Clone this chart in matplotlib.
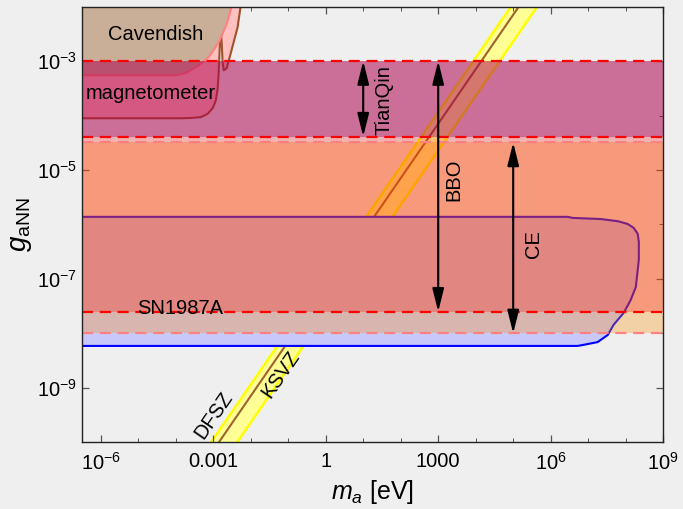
import numpy as np
import matplotlib
matplotlib.use('Agg')
import matplotlib.pyplot as plt
from matplotlib.ticker import FixedLocator, FixedFormatter, NullFormatter

plt.rcParams['font.family'] = ['Liberation Sans', 'DejaVu Sans']
plt.rcParams['mathtext.fontset'] = 'custom'
plt.rcParams['mathtext.rm'] = 'Liberation Sans'
plt.rcParams['mathtext.it'] = 'Liberation Sans:italic'

# ---------------- data ----------------
x_limits = (10**-6.5, 1e9)
y_limits = (1e-10, 1e-2)

x_ticks = [1e-6, 1e-3, 1, 1e3, 1e6, 1e9]
x_ticklabels = [r'$10^{-6}$', '0.001', '1', '1000', r'$10^{6}$', r'$10^{9}$']
y_ticks = [1e-9, 1e-7, 1e-5, 1e-3]
y_ticklabels = [r'$10^{-9}$', r'$10^{-7}$', r'$10^{-5}$', r'$10^{-3}$']

# detector reach in g_aNN (low, high)
tianqin_range = (4.1e-5, 1e-3)
bbo_range = (2.5e-8, 1e-3)
ce_range = (1.0e-8, 3.2e-5)
arrow_masses = {'TianQin': 10.0, 'BBO': 1e3, 'CE': 1e5}

# QCD axion band: log10 g = log10 m + offset
axion_center_offset = -7.15
axion_upper_offset = -6.94
axion_lower_offset = -7.64

# SN1987A excluded region boundary (log10 m, log10 g)
sn_logm = [-6.5, 6.45, 6.59, 7.33, 7.79, 8.05, 8.21, 8.32, 8.35, 8.35, 8.27, 8.13,
           7.95, 7.68, 7.52, 7.25, 6.88, 6.72, 6.53, -6.5]
sn_logg = [-5.86, -5.86, -5.88, -5.90, -5.94, -5.99, -6.06, -6.17, -6.32, -6.65, -7.15,
           -7.39, -7.62, -7.84, -8.03, -8.16, -8.21, -8.23, -8.23, -8.23]

# magnetometer bound (log10 m, log10 g)
mag_logm = [-6.5, -3.87, -3.60, -3.33, -3.15, -3.01, -2.93, -2.88, -2.853, -2.83,
            -2.80, -2.77, -2.75, -2.72, -2.64, -2.53, -2.35, -2.27]
mag_logg = [-4.05, -4.05, -4.045, -4.03, -3.97, -3.86, -3.72, -3.50, -3.20, -2.80,
            -2.43, -2.71, -3.02, -3.17, -3.13, -2.85, -2.38, -2.0]

# Cavendish bound (log10 m, log10 g)
cav_logm = [-6.5, -4.0, -3.73, -3.41, -3.12, -2.85, -2.64, -2.51]
cav_logg = [-3.26, -3.26, -3.22, -3.09, -2.93, -2.65, -2.32, -2.0]

# ---------------- figure ----------------
bg = '#EFEFEF'
fig = plt.figure(figsize=(6.83, 5.09), dpi=100, facecolor=bg)
ax = fig.add_axes([0.120, 0.131, 0.851, 0.856])
ax.set_facecolor(bg)
ax.set_xscale('log')
ax.set_yscale('log')
ax.set_xlim(*x_limits)
ax.set_ylim(*y_limits)

# QCD axion band
lm = np.linspace(np.log10(x_limits[0]), np.log10(x_limits[1]), 200)
m = 10**lm
ax.fill_between(m, 10**(lm + axion_lower_offset), 10**(lm + axion_upper_offset),
                color='#FFFF96', lw=0, zorder=1)
ax.plot(m, 10**(lm + axion_lower_offset), color='#FFFF00', lw=1.8, zorder=1.1)
ax.plot(m, 10**(lm + axion_upper_offset), color='#FFFF00', lw=1.8, zorder=1.1)
ax.plot(m, 10**(lm + axion_center_offset), color='#A0622D', lw=1.5, zorder=1.2)

# SN1987A region
sn_m = 10**np.array(sn_logm)
sn_g = 10**np.array(sn_logg)
ax.fill(sn_m, sn_g, color='#C8C8FA', lw=0, zorder=2)
ax.plot(sn_m, sn_g, color='#0000FF', lw=1.5, zorder=2.1)

# magnetometer region
mag_m = 10**np.array(mag_logm)
mag_g = 10**np.array(mag_logg)
ax.fill(np.r_[mag_m, x_limits[0]], np.r_[mag_g, y_limits[1]], color='#FFC0C0', lw=0, zorder=3)
ax.plot(mag_m, mag_g, color='#A0522D', lw=1.5, zorder=3.1)

# Cavendish region
cav_m = 10**np.array(cav_logm)
cav_g = 10**np.array(cav_logg)
ax.fill(np.r_[cav_m, x_limits[0]], np.r_[cav_g, y_limits[1]], color='#C9AE98', lw=0, zorder=4)
ax.plot(cav_m, cav_g, color='#FF8080', lw=1.5, zorder=4.1)

# detector bands (translucent)
ax.axhspan(*ce_range, color=(1.0, 0.55, 0.0), alpha=0.30, lw=0, zorder=5)
ax.axhspan(*tianqin_range, color=(0.39, 0.0, 0.59), alpha=0.37, lw=0, zorder=5.1)
ax.axhspan(*bbo_range, color=(1.0, 0.0, 0.0), alpha=0.26, lw=0, zorder=5.2)

dash = (0, (5, 3))
for yv in [tianqin_range[1], tianqin_range[0], bbo_range[0]]:
    ax.axhline(yv, color='#FF0000', lw=1.6, ls=dash, zorder=6.1)
for yv in ce_range:
    ax.axhline(yv, color='#FF8080', lw=1.6, ls=dash, zorder=6)

# arrows
arrow_ranges = {'TianQin': tianqin_range, 'BBO': bbo_range, 'CE': ce_range}
for name, mass in arrow_masses.items():
    lo, hi = arrow_ranges[name]
    ax.annotate('', xy=(mass, lo), xytext=(mass, hi),
                arrowprops=dict(arrowstyle='<|-|>,head_length=1.0,head_width=0.25',
                                color='black', lw=1.5, mutation_scale=14,
                                shrinkA=0, shrinkB=0), zorder=7)

# labels
fs = 14.5
ax.text(10**-4.53, 10**-2.52, 'Cavendish', fontsize=fs, ha='center', va='center', zorder=8)
ax.text(10**-4.67, 10**-3.59, 'magnetometer', fontsize=fs, ha='center', va='center', zorder=8)
ax.text(10**1.55, 10**-3.72, 'TianQin', fontsize=fs, rotation=90, ha='center', va='center', zorder=8)
ax.text(10**3.42, 10**-5.18, 'BBO', fontsize=fs, rotation=90, ha='center', va='center', zorder=8)
ax.text(10**5.55, 10**-6.36, 'CE', fontsize=fs, rotation=90, ha='center', va='center', zorder=8)
ax.text(10**-3.87, 10**-7.55, 'SN1987A', fontsize=fs, ha='center', va='center', zorder=8)
ax.text(10**-3.0, 10**-9.5, 'DFSZ', fontsize=fs, rotation=55.5, ha='center', va='center', zorder=8)
ax.text(10**-1.2, 10**-8.76, 'KSVZ', fontsize=fs, rotation=55.5, ha='center', va='center', zorder=8)

# ticks
ax.xaxis.set_major_locator(FixedLocator(x_ticks))
ax.xaxis.set_major_formatter(FixedFormatter(x_ticklabels))
ax.xaxis.set_minor_locator(FixedLocator([10.0**k for k in range(-6, 10)]))
ax.xaxis.set_minor_formatter(NullFormatter())
ax.yaxis.set_major_locator(FixedLocator(y_ticks))
ax.yaxis.set_major_formatter(FixedFormatter(y_ticklabels))
ax.yaxis.set_minor_locator(FixedLocator([10.0**k for k in range(-10, -1)]))
ax.yaxis.set_minor_formatter(NullFormatter())
ax.tick_params(which='both', direction='in', top=True, right=True, color='#555555',
               labelsize=14.5, zorder=9)
ax.tick_params(which='major', length=5, width=0.9)
ax.tick_params(which='minor', length=3, width=0.7)
ax.tick_params(axis='x', pad=7)
for s in ax.spines.values():
    s.set_color('#222222')
    s.set_linewidth(1.0)
    s.set_zorder(10)

ax.set_xlabel(r'$m_a$ [eV]', fontsize=18, labelpad=3)
ax.set_ylabel(r'$g_{\mathrm{aNN}}$', fontsize=20, labelpad=2)

fig.savefig('out.png', dpi=100, facecolor=bg)
